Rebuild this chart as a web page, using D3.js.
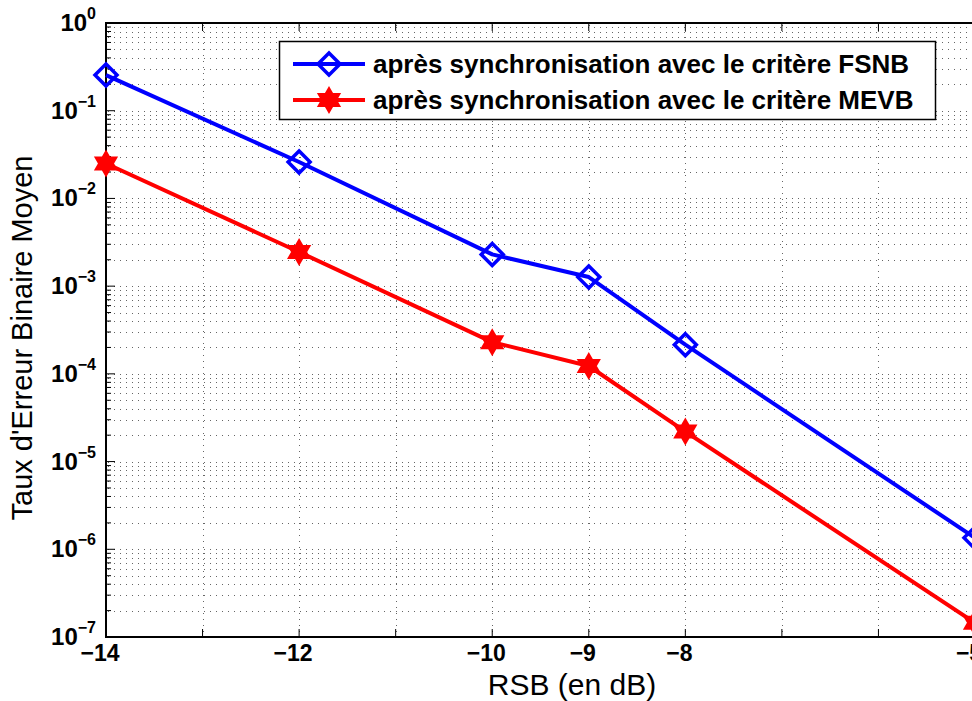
<!DOCTYPE html>
<html>
<head>
<meta charset="utf-8">
<script src="https://cdn.jsdelivr.net/npm/d3@7"></script>
<style>
  body { margin: 0; background: #fff; }
  text { font-family: "Liberation Sans", Arial, sans-serif; }
</style>
</head>
<body>
<svg id="chart" width="972" height="701"></svg>
<script>
// data
const snr = [-14, -12, -10, -9, -8, -5];
const berFSNB = [0.255, 0.026, 2.3e-3, 1.27e-3, 2.15e-4, 1.35e-6];
const berMEVB = [0.025, 2.45e-3, 2.3e-4, 1.23e-4, 2.2e-5, 1.45e-7];
const xTicks = [-14, -13, -12, -11, -10, -9, -8, -7, -6, -5];
const xTickLabels = [-14, -12, -10, -9, -8, -5];
const yDecades = [0, -1, -2, -3, -4, -5, -6, -7];
const seriesNames = [
  "après synchronisation avec le critère FSNB",
  "après synchronisation avec le critère MEVB"
];

const svg = d3.select("#chart");
const plotLeft = 106, plotRight = 975, plotTop = 23, plotBottom = 637;

const x = d3.scaleLinear().domain([-14, -5]).range([plotLeft, plotRight]);
const y = d3.scaleLog().domain([1e-7, 1]).range([plotBottom, plotTop]);

// minor values for log grid
const minors = [];
yDecades.slice(1).forEach(k => {
  for (let m = 2; m <= 9; m++) minors.push(m * Math.pow(10, k));
});

// grid
const grid = svg.append("g")
    .attr("stroke", "#666")
    .attr("stroke-width", 1)
    .attr("stroke-dasharray", "1,5");
grid.selectAll(".hgrid")
  .data(minors.concat(yDecades.slice(1, -1).map(k => Math.pow(10, k))))
  .join("line")
    .attr("x1", plotLeft + 2).attr("x2", plotRight)
    .attr("y1", d => Math.round(y(d)) + 0.5)
    .attr("y2", d => Math.round(y(d)) + 0.5);
grid.selectAll(".vgrid")
  .data(xTicks.slice(1, -1))
  .join("line")
    .attr("x1", d => Math.round(x(d)) + 0.5)
    .attr("x2", d => Math.round(x(d)) + 0.5)
    .attr("y1", plotTop + 2).attr("y2", plotBottom);

// axes box (left, bottom, top)
const axes = svg.append("g").attr("stroke", "#000").attr("fill", "none");
axes.append("path")
    .attr("stroke-width", 2)
    .attr("d", `M${plotRight},${plotTop}H${plotLeft}V${plotBottom}H${plotRight}`);

// x ticks (inward, bottom and top)
axes.selectAll(".xt")
  .data(xTicks)
  .join("path")
    .attr("stroke-width", 1)
    .attr("d", d => `M${x(d)},${plotBottom}v-8M${x(d)},${plotTop}v8`);

// y ticks
axes.selectAll(".ytmaj")
  .data(yDecades.map(k => Math.pow(10, k)))
  .join("path")
    .attr("stroke-width", 1)
    .attr("d", d => `M${plotLeft},${y(d)}h9`);
axes.selectAll(".ytmin")
  .data(minors)
  .join("path")
    .attr("stroke-width", 1)
    .attr("d", d => `M${plotLeft},${y(d)}h5`);

// x tick labels
svg.append("g")
  .selectAll("text")
  .data(xTickLabels)
  .join("text")
    .attr("x", d => x(d) - 6)
    .attr("y", plotBottom + 24)
    .attr("text-anchor", "middle")
    .attr("font-size", 23)
    .attr("font-weight", "bold")
    .text(d => "\u2212" + Math.abs(d));

// y tick labels 10^k
const ylab = svg.append("g")
  .selectAll("text")
  .data(yDecades)
  .join("text")
    .attr("x", plotLeft - 10)
    .attr("y", d => y(Math.pow(10, d)) + 8)
    .attr("text-anchor", "end")
    .attr("font-size", 24)
    .attr("font-weight", "bold");
ylab.append("tspan").text("10");
ylab.append("tspan")
    .attr("font-size", 16)
    .attr("dy", -12)
    .text(d => d === 0 ? "0" : "\u2212" + Math.abs(d));

// axis titles
svg.append("text")
    .attr("x", 572)
    .attr("y", 695)
    .attr("text-anchor", "middle")
    .attr("font-size", 30)
    .text("RSB (en dB)");
svg.append("text")
    .attr("transform", "translate(32,338) rotate(-90)")
    .attr("text-anchor", "middle")
    .attr("font-size", 29)
    .text("Taux d'Erreur Binaire Moyen");

// hexagram path
const hexagram = (cx, cy, R) => {
  const r = R / Math.sqrt(3);
  const pts = d3.range(12).map(i => {
    const a = -Math.PI / 2 + i * Math.PI / 6;
    const rr = i % 2 === 0 ? R : r;
    return [cx + rr * Math.cos(a), cy + rr * Math.sin(a)];
  });
  return "M" + pts.join("L") + "Z";
};
const diamond = (cx, cy, s) =>
  `M${cx},${cy - s}L${cx + s},${cy}L${cx},${cy + s}L${cx - s},${cy}Z`;

const line = d3.line().x(d => x(d[0])).y(d => y(d[1]));
const series = [
  { name: seriesNames[0], color: "#0000ff", values: snr.map((s, i) => [s, berFSNB[i]]), marker: "diamond" },
  { name: seriesNames[1], color: "#ff0000", values: snr.map((s, i) => [s, berMEVB[i]]), marker: "hexagram" }
];

const drawMarker = (g, m, color, cx, cy) => {
  if (m === "diamond") {
    g.append("path")
        .attr("d", diamond(cx, cy, 11))
        .attr("fill", "none")
        .attr("stroke", color)
        .attr("stroke-width", 3.5);
  } else {
    g.append("path")
        .attr("d", hexagram(cx, cy, 12))
        .attr("fill", color)
        .attr("stroke", color)
        .attr("stroke-width", 2)
        .attr("stroke-linejoin", "miter");
  }
};

const plot = svg.append("g");
series.forEach(s => {
  plot.append("path")
      .datum(s.values)
      .attr("d", line)
      .attr("fill", "none")
      .attr("stroke", s.color)
      .attr("stroke-width", 4)
      .attr("stroke-linejoin", "round");
  s.values.forEach(d => drawMarker(plot, s.marker, s.color, x(d[0]), y(d[1])));
});

// legend
const legend = svg.append("g");
legend.append("rect")
    .attr("x", 279.5).attr("y", 41.5)
    .attr("width", 656).attr("height", 78)
    .attr("fill", "#fff")
    .attr("stroke", "#000")
    .attr("stroke-width", 1.5);
series.forEach((s, i) => {
  const ly = 64 + i * 36;
  legend.append("line")
      .attr("x1", 293).attr("x2", 365)
      .attr("y1", ly).attr("y2", ly)
      .attr("stroke", s.color)
      .attr("stroke-width", 4);
  drawMarker(legend, s.marker, s.color, 329, ly);
  legend.append("text")
      .attr("x", 373)
      .attr("y", ly + 9)
      .attr("font-size", 26)
      .attr("font-weight", "bold")
      .text(s.name);
});
</script>
</body>
</html>
